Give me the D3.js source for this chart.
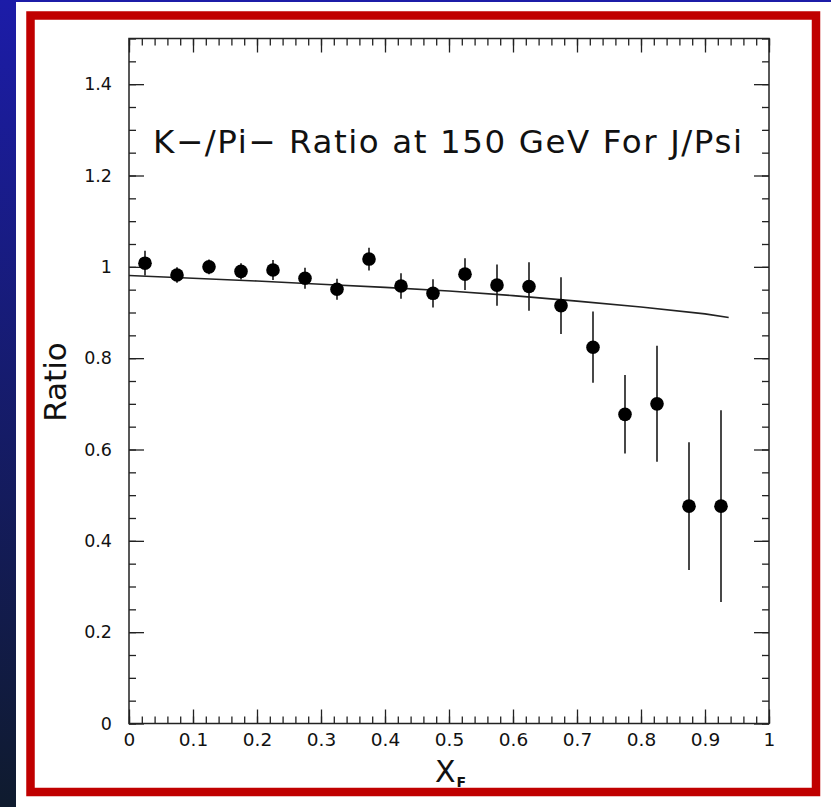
<!DOCTYPE html>
<html>
<head>
<meta charset="utf-8">
<title>K-/Pi- Ratio at 150 GeV For J/Psi</title>
<script src="https://cdn.jsdelivr.net/npm/d3@7"></script>
<style>
  body { margin: 0; background: #fff; }
  svg { display: block; }
  .tick text { font-family: "DejaVu Sans", sans-serif; fill: #111; }
</style>
</head>
<body>
<svg id="chart" width="831" height="807"></svg>
<script>
// data (bin centres in xF, ratio, symmetric error)
var xf = [0.025, 0.075, 0.125, 0.175, 0.225, 0.275, 0.325, 0.375, 0.425, 0.475,
          0.525, 0.575, 0.625, 0.675, 0.725, 0.775, 0.825, 0.875, 0.925];
var ratio = [1.008, 0.982, 1.000, 0.990, 0.993, 0.975, 0.951, 1.017, 0.958, 0.942,
             0.984, 0.960, 0.957, 0.915, 0.824, 0.677, 0.700, 0.476, 0.476];
var err = [0.027, 0.017, 0.016, 0.018, 0.022, 0.023, 0.023, 0.025, 0.028, 0.031,
           0.035, 0.045, 0.053, 0.062, 0.078, 0.086, 0.127, 0.14, 0.21];

// model curve
var curveX = [0, 0.1, 0.2, 0.3, 0.4, 0.5, 0.6, 0.7, 0.8, 0.9, 0.937];
var curveY = [0.981, 0.975, 0.969, 0.962, 0.955, 0.947, 0.937, 0.925, 0.912, 0.897, 0.889];

var xTicks = [0, 0.1, 0.2, 0.3, 0.4, 0.5, 0.6, 0.7, 0.8, 0.9, 1];
var xTickLabels = ["0", "0.1", "0.2", "0.3", "0.4", "0.5", "0.6", "0.7", "0.8", "0.9", "1"];
var yTicks = [0, 0.2, 0.4, 0.6, 0.8, 1, 1.2, 1.4];
var yTickLabels = ["0", "0.2", "0.4", "0.6", "0.8", "1", "1.2", "1.4"];

var svg = d3.select("#chart");

// page background: blue slide with a red framed white panel
var defs = svg.append("defs");
var grad = defs.append("linearGradient").attr("id", "bg")
  .attr("x1", 0).attr("y1", 0).attr("x2", 0).attr("y2", 1);
grad.append("stop").attr("offset", 0).attr("stop-color", "#1c1ca8");
grad.append("stop").attr("offset", 1).attr("stop-color", "#0f1b2e");
svg.append("rect").attr("width", 831).attr("height", 807).attr("fill", "url(#bg)");
svg.append("rect").attr("x", 16).attr("y", 2).attr("width", 815).attr("height", 805).attr("fill", "#fff");
svg.append("rect").attr("x", 30.5).attr("y", 15.5).attr("width", 785.5).attr("height", 776.5)
  .attr("fill", "none").attr("stroke", "#c00000").attr("stroke-width", 8.5);

var plotL = 129, plotR = 769, plotT = 38.5, plotB = 723.5;
var x = d3.scaleLinear().domain([0, 1]).range([plotL, plotR]);
var y = d3.scaleLinear().domain([0, 1.5]).range([plotB, plotT]);

var axisColor = "#222";
function styleAxis(g) {
  g.select(".domain").remove();
  g.selectAll(".tick line").attr("stroke", axisColor).attr("stroke-width", 1.3);
}

// bottom axis with labels
var xMinor = d3.range(0, 1.0001, 0.02);
svg.append("g").attr("transform", "translate(0," + plotB + ")")
  .call(d3.axisBottom(x).tickValues(xMinor).tickSize(-7).tickFormat(""))
  .call(styleAxis);
svg.append("g").attr("transform", "translate(0," + plotB + ")")
  .call(d3.axisBottom(x).tickValues(xTicks).tickSize(-14).tickPadding(9)
    .tickFormat(function (d, i) { return xTickLabels[i]; }))
  .call(styleAxis)
  .selectAll("text").attr("font-size", 18.5);
// top axis (ticks only)
svg.append("g").attr("transform", "translate(0," + plotT + ")")
  .call(d3.axisTop(x).tickValues(xMinor).tickSize(-7).tickFormat(""))
  .call(styleAxis);
svg.append("g").attr("transform", "translate(0," + plotT + ")")
  .call(d3.axisTop(x).tickValues(xTicks).tickSize(-14).tickFormat(""))
  .call(styleAxis);

// left axis with labels
var yMinor = d3.range(0, 1.5001, 0.05);
svg.append("g").attr("transform", "translate(" + plotL + ",0)")
  .call(d3.axisLeft(y).tickValues(yMinor).tickSize(-7).tickFormat(""))
  .call(styleAxis);
svg.append("g").attr("transform", "translate(" + plotL + ",0)")
  .call(d3.axisLeft(y).tickValues(yTicks).tickSize(-15).tickPadding(17)
    .tickFormat(function (d, i) { return yTickLabels[i]; }))
  .call(styleAxis)
  .selectAll("text").attr("font-size", 17.5);
// right axis (ticks only)
svg.append("g").attr("transform", "translate(" + plotR + ",0)")
  .call(d3.axisRight(y).tickValues(yMinor).tickSize(-7).tickFormat(""))
  .call(styleAxis);
svg.append("g").attr("transform", "translate(" + plotR + ",0)")
  .call(d3.axisRight(y).tickValues(yTicks).tickSize(-15).tickFormat(""))
  .call(styleAxis);

// frame
svg.append("rect").attr("x", plotL).attr("y", plotT)
  .attr("width", plotR - plotL).attr("height", plotB - plotT)
  .attr("fill", "none").attr("stroke", axisColor).attr("stroke-width", 1.5);

// model curve
var line = d3.line().x(function (d, i) { return x(curveX[i]); }).y(function (d) { return y(d); });
svg.append("path").datum(curveY).attr("d", line)
  .attr("fill", "none").attr("stroke", "#222").attr("stroke-width", 1.6);

// error bars
svg.append("g").selectAll("line").data(ratio).join("line")
  .attr("x1", function (d, i) { return x(xf[i]); })
  .attr("x2", function (d, i) { return x(xf[i]); })
  .attr("y1", function (d, i) { return y(d + err[i]); })
  .attr("y2", function (d, i) { return y(d - err[i]); })
  .attr("stroke", "#1a1a1a").attr("stroke-width", 1.6);

// points
svg.append("g").selectAll("circle").data(ratio).join("circle")
  .attr("cx", function (d, i) { return x(xf[i]); })
  .attr("cy", function (d) { return y(d); })
  .attr("r", 6.8).attr("fill", "#000");

// title inside the frame
svg.append("text").attr("x", 153).attr("y", 153)
  .attr("font-family", "DejaVu Sans, sans-serif").attr("font-size", 32.5)
  .attr("textLength", 589).attr("lengthAdjust", "spacing")
  .attr("fill", "#111")
  .text("K\u2212/Pi\u2212 Ratio at 150 GeV For J/Psi");

// axis titles
svg.append("text")
  .attr("transform", "translate(66,382) rotate(-90)")
  .attr("text-anchor", "middle")
  .attr("font-family", "DejaVu Sans, sans-serif").attr("font-size", 31)
  .attr("fill", "#111")
  .text("Ratio");

var xt = svg.append("text").attr("x", 435).attr("y", 782)
  .attr("font-family", "DejaVu Sans, sans-serif").attr("font-size", 30)
  .attr("fill", "#111");
xt.append("tspan").text("X");
xt.append("tspan").attr("dy", 5).attr("dx", 1).attr("font-size", 14).attr("font-weight", "bold").text("F");
</script>
</body>
</html>
